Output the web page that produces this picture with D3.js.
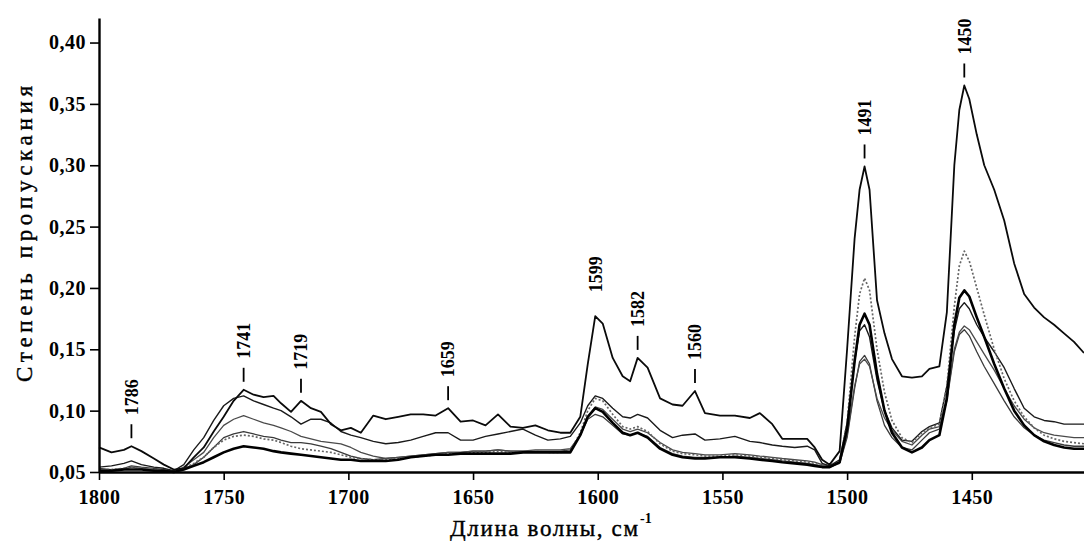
<!DOCTYPE html>
<html><head><meta charset="utf-8">
<script src="https://cdn.jsdelivr.net/npm/d3@7"></script>
<style>body{margin:0;background:#fff} svg{display:block}</style>
</head><body><svg id="chart" width="1084" height="541"></svg>
<script>
// ---- data ----
const wavenumber = [1800,1795,1790,1787,1783,1778,1774,1770,1766,1762,
1758,1754,1750,1746,1742,1738,1734,1730,1727,1723,
1719,1715,1711,1707,1703,1699,1695,1690,1685,1680,
1675,1670,1665,1660,1655,1650,1645,1640,1635,1630,
1625,1620,1615,1611,1607,1604,1601,1598,1594,1590,
1587,1584,1580,1575,1570,1566,1561,1557,1551,1545,
1539,1535,1530,1526,1521,1516,1513,1510,1507,1503,
1500,1497,1495,1493,1491,1488,1485,1482,1478,1474,
1470,1467,1463,1460,1457,1455,1453,1451,1448,1445,
1441,1437,1433,1429,1425,1421,1417,1413,1409,1405];

const spectrum1 = [.070,.066,.068,.071,.067,.061,.056,.052,.053,.062,
.070,.083,.095,.108,.117,.113,.111,.112,.106,.099,
.108,.102,.099,.089,.084,.086,.082,.096,.093,.095,
.097,.097,.096,.102,.091,.092,.088,.097,.087,.086,
.088,.084,.082,.082,.095,.138,.177,.171,.143,.128,
.124,.143,.135,.110,.105,.104,.116,.098,.096,.096,
.094,.098,.089,.077,.077,.077,.070,.060,.056,.067,
.150,.240,.280,.299,.280,.190,.163,.142,.128,.127,
.128,.134,.136,.180,.300,.345,.365,.354,.325,.300,
.280,.255,.220,.195,.184,.176,.170,.163,.156,.147];

const spectrum2 = [.054,.055,.057,.059,.056,.054,.053,.051,.056,.068,
.078,.092,.104,.110,.112,.108,.105,.102,.100,.095,
.089,.093,.093,.090,.083,.080,.078,.075,.073,.074,
.076,.079,.082,.082,.076,.076,.079,.081,.083,.085,
.080,.076,.077,.079,.090,.104,.112,.110,.102,.095,
.094,.097,.094,.084,.078,.080,.081,.076,.077,.079,
.075,.074,.072,.071,.070,.071,.068,.057,.055,.060,
.090,.140,.165,.170,.160,.125,.100,.086,.076,.075,
.083,.087,.090,.120,.165,.183,.188,.183,.170,.160,
.148,.135,.118,.102,.095,.092,.091,.089,.089,.089];

const spectrum3 = [.052,.051,.052,.054,.053,.052,.051,.050,.054,.060,
.066,.078,.088,.093,.096,.093,.090,.088,.086,.083,
.079,.077,.075,.074,.073,.070,.066,.063,.061,.062,
.063,.064,.065,.066,.066,.067,.067,.068,.067,.067,
.068,.068,.068,.069,.080,.095,.103,.101,.093,.085,
.083,.085,.082,.074,.068,.066,.065,.064,.064,.065,
.064,.063,.062,.061,.060,.059,.058,.056,.055,.058,
.080,.120,.138,.142,.136,.110,.094,.084,.075,.072,
.080,.085,.087,.110,.150,.164,.169,.166,.156,.146,
.133,.118,.104,.093,.086,.082,.080,.079,.078,.078];

const spectrum4 = [.052,.052,.053,.054,.053,.052,.051,.050,.053,.057,
.062,.070,.076,.079,.080,.079,.077,.076,.074,.071,
.069,.068,.067,.066,.064,.062,.061,.060,.060,.061,
.062,.063,.064,.065,.065,.066,.066,.067,.066,.066,
.067,.066,.066,.067,.082,.100,.110,.108,.097,.087,
.085,.087,.083,.073,.067,.065,.064,.063,.063,.064,
.063,.062,.061,.060,.059,.058,.057,.055,.054,.058,
.090,.160,.195,.208,.198,.150,.115,.092,.078,.074,
.082,.086,.089,.120,.185,.218,.230,.222,.200,.178,
.150,.126,.108,.095,.086,.080,.077,.075,.074,.073];

const spectrum5 = [.051,.051,.052,.052,.052,.051,.051,.050,.052,.055,
.058,.062,.066,.069,.071,.070,.069,.067,.066,.065,
.064,.063,.062,.061,.060,.060,.059,.059,.059,.060,
.062,.063,.064,.064,.065,.065,.065,.065,.065,.066,
.066,.066,.066,.066,.080,.095,.102,.099,.090,.082,
.080,.082,.078,.069,.064,.062,.061,.061,.062,.062,
.061,.060,.059,.058,.057,.056,.055,.054,.054,.058,
.085,.140,.170,.179,.170,.130,.100,.082,.070,.066,
.070,.076,.080,.110,.170,.192,.198,.193,.176,.160,
.138,.118,.100,.088,.080,.075,.072,.070,.069,.069];

const spectrum6 = [.053,.052,.053,.055,.054,.053,.052,.051,.053,.056,
.062,.070,.078,.081,.083,.081,.079,.078,.076,.074,
.074,.073,.071,.069,.066,.063,.061,.060,.061,.062,
.063,.064,.065,.066,.066,.067,.067,.068,.067,.067,
.067,.067,.067,.068,.080,.093,.097,.095,.088,.081,
.080,.082,.079,.070,.065,.063,.062,.062,.062,.063,
.062,.061,.060,.059,.058,.057,.056,.055,.054,.057,
.078,.118,.140,.145,.138,.108,.088,.078,.070,.068,
.076,.082,.085,.108,.148,.162,.166,.161,.148,.136,
.122,.108,.095,.086,.080,.076,.074,.072,.071,.071];

const xTicks = [1800,1750,1700,1650,1600,1550,1500,1450];
const yTicks = [0.05,0.10,0.15,0.20,0.25,0.30,0.35,0.40];
const peakLabels = ["1786","1741","1719","1659","1599","1582","1560","1491","1450"];
const peakPositions = [1787,1742,1719,1660,1601,1584,1561,1493,1453];
const peakHasDash = [true,true,true,true,false,true,true,true,true];
const xTitle = "Длина волны, см";
const xTitleSup = "-1";
const yTitle = "Степень пропускания";

// ---- drawing ----
const FONT = "'Liberation Serif','Times New Roman',serif";
const svg = d3.select("#chart");
const x = d3.scaleLinear().domain([1800,1405]).range([99,1084]);
const y = d3.scaleLinear().domain([0.05,0.42]).range([472,18]);

const styles = [
  {data: spectrum6, stroke:"#3a3a3a", width:1.3, dash:null},
  {data: spectrum3, stroke:"#4a4a4a", width:1.3, dash:null},
  {data: spectrum2, stroke:"#1a1a1a", width:1.4, dash:null},
  {data: spectrum4, stroke:"#666", width:1.7, dash:"2,2"},
  {data: spectrum5, stroke:"#000", width:2.6, dash:null},
  {data: spectrum1, stroke:"#0a0a0a", width:1.8, dash:null}
];

const line = d3.line().x(d=>x(d[0])).y(d=>y(d[1]));
styles.forEach(s=>{
  const pts = wavenumber.map((w,i)=>[w,s.data[i]]);
  svg.append("path").datum(pts)
    .attr("d", line).attr("fill","none")
    .attr("stroke", s.stroke).attr("stroke-width", s.width)
    .attr("stroke-linejoin","round")
    .attr("stroke-dasharray", s.dash);
});

// axes
const yAxis = d3.axisLeft(y).tickValues(yTicks)
  .tickFormat(d=>d3.format(".2f")(d).replace(".",","))
  .tickSize(9).tickPadding(4).tickSizeOuter(0);
const gy = svg.append("g").attr("transform","translate(99,0)").call(yAxis);
gy.select(".domain").attr("stroke","#000").attr("stroke-width",2.4);
gy.selectAll(".tick line").attr("stroke","#000").attr("stroke-width",1.6);
gy.selectAll(".tick text").attr("font-family",FONT).attr("font-size",20)
  .attr("font-weight","bold").attr("fill","#000").attr("letter-spacing","0.5px");

const xAxis = d3.axisBottom(x).tickValues(xTicks).tickFormat(d3.format("d"))
  .tickSize(8).tickPadding(10).tickSizeOuter(0);
const gx = svg.append("g").attr("transform","translate(0,472)").call(xAxis);
gx.select(".domain").attr("stroke","#000").attr("stroke-width",2.4);
gx.selectAll(".tick line").attr("stroke","#000").attr("stroke-width",1.6);
gx.selectAll(".tick text").attr("font-family",FONT).attr("font-size",20)
  .attr("font-weight","bold").attr("fill","#000").attr("letter-spacing","0.5px");

// axis titles
svg.append("text").attr("x",450).attr("y",536)
  .attr("font-family",FONT).attr("font-size",23).attr("fill","#000")
  .attr("stroke","#000").attr("stroke-width",0.4)
  .attr("textLength",188).attr("lengthAdjust","spacing")
  .text(xTitle);
svg.append("text").attr("x",640).attr("y",523)
  .attr("font-family",FONT).attr("font-size",14).attr("font-weight","bold").attr("fill","#000")
  .text(xTitleSup);

svg.append("text")
  .attr("transform","translate(24,234) rotate(-90)")
  .attr("text-anchor","middle").attr("dy","0.35em")
  .attr("font-family",FONT).attr("font-size",23).attr("fill","#000")
  .attr("stroke","#000").attr("stroke-width",0.4)
  .attr("textLength",296).attr("lengthAdjust","spacing")
  .text(yTitle);

// peak annotations
peakLabels.forEach((lab,i)=>{
  const pos = peakPositions[i];
  const idx = wavenumber.indexOf(pos);
  const px = x(pos), py = y(spectrum1[idx]);
  if (peakHasDash[i]) {
    svg.append("line").attr("x1",px).attr("x2",px)
      .attr("y1",py-8).attr("y2",py-22)
      .attr("stroke","#000").attr("stroke-width",1.8);
  }
  const tb = peakHasDash[i] ? py-31 : py-24;
  svg.append("text")
    .attr("transform",`translate(${px},${tb}) rotate(-90)`)
    .attr("dy","0.35em")
    .attr("font-family",FONT).attr("font-size",18).attr("font-weight","bold").attr("fill","#000")
    .text(lab);
});
</script>
</body></html>
